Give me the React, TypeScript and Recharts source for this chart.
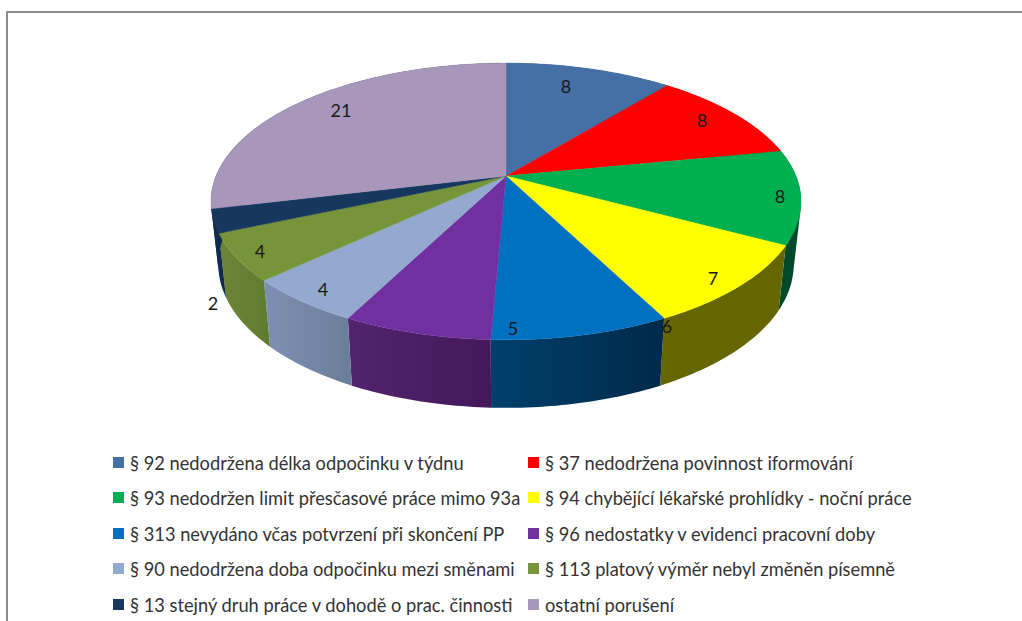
import React from "react";
import { PieChart, Pie, Legend } from "recharts";

const categories = [
  "§ 92 nedodržena délka odpočinku v týdnu",
  "§ 37 nedodržena povinnost iformování",
  "§ 93 nedodržen limit přesčasové práce mimo 93a",
  "§ 94 chybějící lékařské prohlídky - noční práce",
  "§ 313 nevydáno včas potvrzení při skončení PP",
  "§ 96 nedostatky v evidenci pracovní doby",
  "§ 90 nedodržena doba odpočinku mezi směnami",
  "§ 113 platový výměr nebyl změněn písemně",
  "§ 13 stejný druh práce v dohodě o prac. činnosti",
  "ostatní porušení",
];
const values = [8, 8, 8, 7, 6, 5, 4, 4, 2, 21];
const topColors = ["#4570A6", "#FF0000", "#00B050", "#FFFF00", "#0070C0", "#7030A0", "#93A9CF", "#769439", "#17375E", "#A897BB"];
const wallStart = ["#2F4D72", "#990000", "#00492B", "#666600", "#003F6C", "#52246F", "#7D90B2", "#6E8538", "#102B4D", "#102B4D"];
const wallEnd = ["#2F4D72", "#990000", "#00492B", "#666600", "#002A4A", "#45175A", "#6A7D98", "#5F7A30", "#102B4D", "#102B4D"];

const tableData = categories.map((name, i) => ({ name, value: values[i], fill: topColors[i] }));

// projection of the flat disc to the tilted, perspective view
const CX = 506;
const CY = 176;
const R = 290;
const TILT = 0.461;
const K = 0.184;
const RAD = Math.PI / 180;

const project = (deg: number, cx: number, cy: number, r: number) => {
  const u = Math.cos(deg * RAD);
  const v = Math.sin(deg * RAD);
  const d = 1 + K * v;
  return { x: cx + (r * u) / d, y: cy - (r * TILT * v) / d, v };
};
const lower = (p: { x: number; y: number; v: number }, cx: number) => ({
  x: cx + 0.975 * (p.x - cx),
  y: p.y + 62 - 6 * p.v,
});
const arc = (a: number, b: number, cx: number, cy: number, r: number) => {
  const n = Math.max(2, Math.ceil(Math.abs(b - a)));
  return Array.from({ length: n + 1 }, (_, i) => project(a + ((b - a) * i) / n, cx, cy, r));
};
const toPath = (pts: { x: number; y: number }[]) =>
  "M" + pts.map((p) => `${p.x.toFixed(2)},${p.y.toFixed(2)}`).join("L") + "Z";

const TopFace = (props: any) => {
  const { cx, cy, outerRadius, startAngle, endAngle, fill } = props;
  const d = toPath([{ x: cx, y: cy }, ...arc(startAngle, endAngle, cx, cy, outerRadius)]);
  return <path d={d} fill={fill} stroke={fill} strokeWidth={0.4} />;
};

// the wall is a sweep of small quads, so that its silhouette past the rim's extreme points is filled
const Wall = (props: any) => {
  const { cx, cy, outerRadius, startAngle, endAngle, index } = props;
  const top = arc(startAngle, endAngle, cx, cy, outerRadius);
  const quads = top.slice(1).map((p, i) => {
    const q = top[i];
    const area = [q, p, lower(p, cx), lower(q, cx)];
    // keep one winding so that overlapping quads all stay filled
    const signed = area.reduce((s, a, j) => {
      const b = area[(j + 1) % 4];
      return s + a.x * b.y - b.x * a.y;
    }, 0);
    return toPath(signed < 0 ? area.reverse() : area);
  });
  const id = `wall-${index}`;
  return (
    <g>
      <defs>
        <linearGradient id={id} x1="0" y1="0" x2="1" y2="0">
          <stop offset="0" stopColor={wallStart[index]} />
          <stop offset="1" stopColor={wallEnd[index]} />
        </linearGradient>
      </defs>
      <path d={quads.join("")} fill={`url(#${id})`} />
    </g>
  );
};

// label centres relative to the pie centre
const labelOffsets = [
  [60, -90], [196, -56], [274, 20], [207, 102], [161, 150],
  [7, 152], [-183, 113], [-246, 75], [-293, 127], [-165, -66],
];

const renderLabel = (props: any) => {
  const { cx, cy, index, value } = props;
  const [dx, dy] = labelOffsets[index];
  return (
    <text x={cx + dx} y={cy + dy} textAnchor="middle" dominantBaseline="central"
      fontFamily="Lato" fontSize={18} fill="#1a1a1a">
      {value}
    </text>
  );
};

const rowTops = [463, 498, 534, 569, 605];
const colSwatch = [113, 528];
const colText = [130, 545];

const renderLegend = (props: any) => {
  const seen = new Set<string>();
  const items = ((props.payload || []) as any[]).filter((it) => {
    if (seen.has(it.value)) return false;
    seen.add(it.value);
    return true;
  });
  return (
    <div style={{ position: "relative", width: 1022, height: 621 }}>
      {items.map((it, i) => {
        const col = i % 2;
        const rowY = rowTops[Math.floor(i / 2)];
        return (
          <React.Fragment key={i}>
            <div style={{ position: "absolute", left: colSwatch[col], top: rowY - 6, width: 11, height: 11, background: it.color }} />
            <div style={{ position: "absolute", left: colText[col], top: rowY - 12, lineHeight: "24px", whiteSpace: "nowrap",
              fontFamily: "Lato", fontSize: 18.25, color: "#333333" }}>
              {it.value}
            </div>
          </React.Fragment>
        );
      })}
    </div>
  );
};

export default function App() {
  return (
    <div style={{ position: "absolute", left: 0, top: 0, width: 1022, height: 621, overflow: "hidden", background: "#fff" }}>
      <div style={{ position: "absolute", left: 6, top: 11, width: 1016, height: 610, borderTop: "2px solid #8C8C8C", borderLeft: "2px solid #8C8C8C", boxSizing: "border-box" }} />
      <PieChart width={1022} height={621} margin={{ top: 0, right: 0, bottom: 0, left: 0 }}>
        <Pie data={tableData} dataKey="value" nameKey="name" cx={CX} cy={CY} innerRadius={0} outerRadius={R}
          startAngle={90} endAngle={-270} isAnimationActive={false} legendType="none" stroke="none" shape={Wall} />
        <Pie data={tableData} dataKey="value" nameKey="name" cx={CX} cy={CY} innerRadius={0} outerRadius={R}
          startAngle={90} endAngle={-270} isAnimationActive={false} stroke="none" shape={TopFace}
          label={renderLabel} labelLine={false} />
        <Legend content={renderLegend} itemSorter={null as any} wrapperStyle={{ position: "absolute", left: 0, top: 0, width: 1022, height: 621, bottom: "auto" }} />
      </PieChart>
    </div>
  );
}
